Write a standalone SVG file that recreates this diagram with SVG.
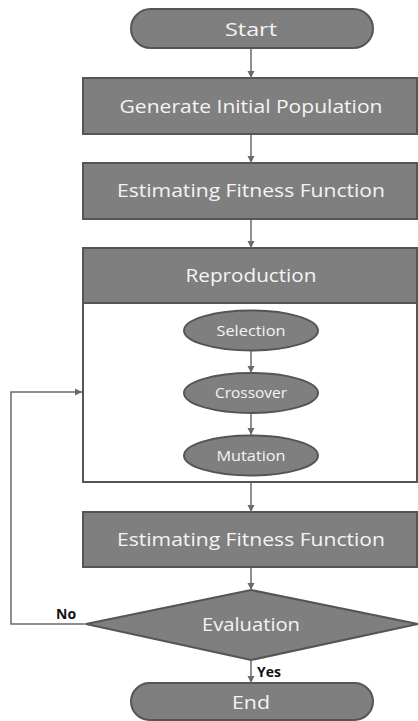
<svg xmlns="http://www.w3.org/2000/svg" width="418" height="721" viewBox="0 0 418 721">
<style>
.n{fill:#7f7f7f;stroke:#555;stroke-width:2}
.t{fill:#f4f4f4;font-family:"Open Sans","Noto Sans",sans-serif;text-anchor:middle}
.big{font-size:19px}
.sm{font-size:14.5px}
.c{fill:none;stroke:#6a6a6a;stroke-width:1.5}
.lab{fill:#111;font-family:"Open Sans","Noto Sans",sans-serif;font-size:14px;font-weight:bold}
</style>
<defs>
<marker id="ah" viewBox="0 0 10 10" refX="10" refY="5" markerWidth="5" markerHeight="5" orient="auto">
<path d="M0,0 L10,5 L0,10 z" fill="#6a6a6a"/>
</marker>
</defs>
<rect width="418" height="721" fill="#fff"/>
<g id="start">
<rect class="n" x="131" y="9" width="242" height="39" rx="19.5"/>
<text class="t big" x="251" y="36" textLength="52" lengthAdjust="spacingAndGlyphs">Start</text>
</g>
<g id="generate">
<rect class="n" x="83" y="78" width="334" height="56"/>
<text class="t big" x="251" y="113" textLength="263" lengthAdjust="spacingAndGlyphs">Generate Initial Population</text>
</g>
<g id="estimate1">
<rect class="n" x="83" y="163" width="334" height="56"/>
<text class="t big" x="251" y="197" textLength="268" lengthAdjust="spacingAndGlyphs">Estimating Fitness Function</text>
</g>
<g id="reproduction">
<rect x="83" y="248" width="334" height="234" fill="#fff" stroke="#555" stroke-width="2"/>
<rect class="n" x="83" y="248" width="334" height="55"/>
<text class="t big" x="251" y="282" textLength="131" lengthAdjust="spacingAndGlyphs">Reproduction</text>
</g>
<g id="selection">
<ellipse class="n" cx="251" cy="330.5" rx="67" ry="20"/>
<text class="t sm" x="251" y="336" textLength="69" lengthAdjust="spacingAndGlyphs">Selection</text>
</g>
<g id="crossover">
<ellipse class="n" cx="251" cy="393" rx="67" ry="20"/>
<text class="t sm" x="251" y="398" textLength="72" lengthAdjust="spacingAndGlyphs">Crossover</text>
</g>
<g id="mutation">
<ellipse class="n" cx="251" cy="455.5" rx="67" ry="20"/>
<text class="t sm" x="251" y="461" textLength="69" lengthAdjust="spacingAndGlyphs">Mutation</text>
</g>
<g id="estimate2">
<rect class="n" x="83" y="512" width="334" height="55"/>
<text class="t big" x="251" y="546" textLength="268" lengthAdjust="spacingAndGlyphs">Estimating Fitness Function</text>
</g>
<g id="evaluation">
<polygon class="n" points="251,590 418,624 251,660 86,624"/>
<text class="t big" x="251" y="631" textLength="98" lengthAdjust="spacingAndGlyphs">Evaluation</text>
</g>
<g id="end">
<rect class="n" x="131" y="683" width="242" height="37" rx="18.5"/>
<text class="t big" x="251" y="709" textLength="38" lengthAdjust="spacingAndGlyphs">End</text>
</g>
<g id="connectors">
<line class="c" x1="251" y1="49" x2="251" y2="78" marker-end="url(#ah)"/>
<line class="c" x1="251" y1="135" x2="251" y2="163" marker-end="url(#ah)"/>
<line class="c" x1="251" y1="220" x2="251" y2="248" marker-end="url(#ah)"/>
<line class="c" x1="251" y1="351" x2="251" y2="373" marker-end="url(#ah)"/>
<line class="c" x1="251" y1="413" x2="251" y2="435" marker-end="url(#ah)"/>
<line class="c" x1="251" y1="483" x2="251" y2="512" marker-end="url(#ah)"/>
<line class="c" x1="251" y1="568" x2="251" y2="590" marker-end="url(#ah)"/>
<line class="c" x1="251" y1="661" x2="251" y2="683" marker-end="url(#ah)"/>
<polyline class="c" points="86,624 11,624 11,392 82,392" marker-end="url(#ah)"/>
<text class="lab" x="56" y="619">No</text>
<text class="lab" x="257" y="677">Yes</text>
</g>
</svg>
